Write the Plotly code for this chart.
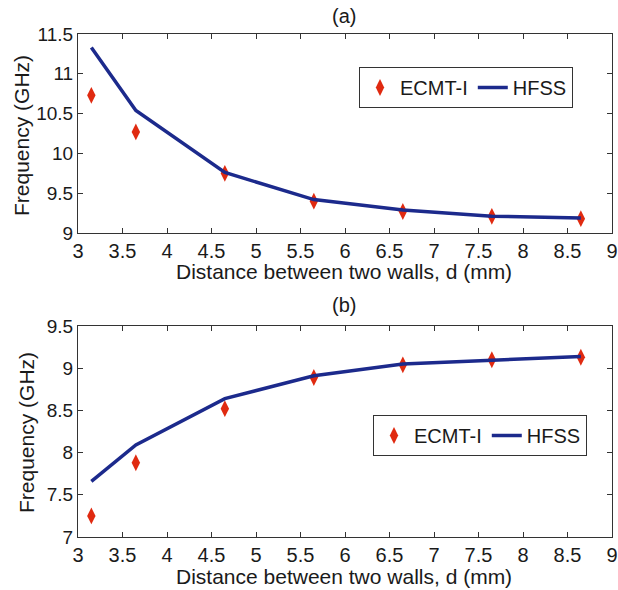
import plotly.graph_objects as go

d_mm = [3.15, 3.65, 4.65, 5.65, 6.65, 7.65, 8.65]
ecmt_a = [10.73, 10.27, 9.75, 9.40, 9.27, 9.21, 9.18]
hfss_a = [11.33, 10.54, 9.76, 9.42, 9.29, 9.21, 9.19]
ecmt_b = [7.25, 7.88, 8.52, 8.89, 9.04, 9.10, 9.13]
hfss_b = [7.66, 8.09, 8.64, 8.91, 9.05, 9.10, 9.14]

x_ticks = [3, 3.5, 4, 4.5, 5, 5.5, 6, 6.5, 7, 7.5, 8, 8.5, 9]
ya_ticks = [9, 9.5, 10, 10.5, 11, 11.5]
yb_ticks = [7, 7.5, 8, 8.5, 9, 9.5]

RED = "#e02a10"
NAVY = "#1c2a8c"
FONT = "Liberation Sans, Arial, sans-serif"
TXT = "#1a1a1a"

W, H = 618, 590
L, R, T, B = 78, 6, 34, 53
PW, PH = W - L - R, H - T - B


def px_x(px):  # screen pixel -> paper x
    return (px - L) / PW


def px_y(py):  # screen pixel -> paper y
    return (H - B - py) / PH


fig = go.Figure()
fig.add_trace(go.Scatter(x=d_mm, y=ecmt_a, mode="markers", name="ECMT-I",
                         marker=dict(symbol="diamond-tall", size=12, color=RED),
                         xaxis="x", yaxis="y", legend="legend"))
fig.add_trace(go.Scatter(x=d_mm, y=hfss_a, mode="lines", name="HFSS",
                         line=dict(color=NAVY, width=3.5),
                         xaxis="x", yaxis="y", legend="legend"))
fig.add_trace(go.Scatter(x=d_mm, y=ecmt_b, mode="markers", name="ECMT-I",
                         marker=dict(symbol="diamond-tall", size=12, color=RED),
                         xaxis="x2", yaxis="y2", legend="legend2"))
fig.add_trace(go.Scatter(x=d_mm, y=hfss_b, mode="lines", name="HFSS",
                         line=dict(color=NAVY, width=3.5),
                         xaxis="x2", yaxis="y2", legend="legend2"))

axis_common = dict(showgrid=False, zeroline=False, showline=True, mirror="ticks",
                   linecolor="#333333", linewidth=1, ticks="inside", ticklen=5,
                   tickcolor="#333333", automargin=False)
xfont = dict(size=20, color=TXT)
yfont = dict(size=19, color=TXT)
xt = [str(v) for v in x_ticks]

fig.update_layout(
    width=W, height=H, margin=dict(l=L, r=R, t=T, b=B),
    paper_bgcolor="white", plot_bgcolor="white",
    font=dict(family=FONT, color=TXT, size=20),
    xaxis=dict(domain=[0, 1], anchor="y", range=[3, 9], tickvals=x_ticks, ticktext=xt,
               tickfont=xfont, **axis_common),
    yaxis=dict(domain=[px_y(233), 1], anchor="x", range=[9, 11.5], tickvals=ya_ticks,
               ticktext=[f"{v:g}" for v in ya_ticks], tickfont=yfont, **axis_common),
    xaxis2=dict(domain=[0, 1], anchor="y2", range=[3, 9], tickvals=x_ticks, ticktext=xt,
                tickfont=xfont, **axis_common),
    yaxis2=dict(domain=[0, px_y(326)], anchor="x2", range=[7, 9.5], tickvals=yb_ticks,
                ticktext=[f"{v:g}" for v in yb_ticks], tickfont=yfont, **axis_common),
    legend=dict(orientation="h", x=px_x(359), y=px_y(67), xanchor="left", yanchor="top",
                bordercolor="#333333", borderwidth=1, bgcolor="white",
                font=dict(size=20, color=TXT), tracegroupgap=0),
    legend2=dict(orientation="h", x=px_x(373), y=px_y(415), xanchor="left", yanchor="top",
                 bordercolor="#333333", borderwidth=1, bgcolor="white",
                 font=dict(size=20, color=TXT), tracegroupgap=0),
    showlegend=True,
)

xtitle = "Distance between two walls, d (mm)"
ytitle = "Frequency (GHz)"
notes = [
    ("(a)", 344, 16, 0, 20),
    ("(b)", 344, 305, 0, 20),
    (xtitle, 344, 271, 0, 21),
    (xtitle, 344, 576, 0, 21),
    (ytitle, 21, 136, -90, 21),
    (ytitle, 26, 433, -90, 21),
]
for text, xp, yp, ang, fs in notes:
    fig.add_annotation(text=text, x=px_x(xp), y=px_y(yp), xref="paper", yref="paper",
                       xanchor="center", yanchor="middle", textangle=ang,
                       showarrow=False, font=dict(size=fs, color=TXT))

# remove the default 8px page margin so the figure sits at the window's corner
fig.write_html("out.html", config={"displayModeBar": False},
               post_script="document.body.style.margin='0px';")
